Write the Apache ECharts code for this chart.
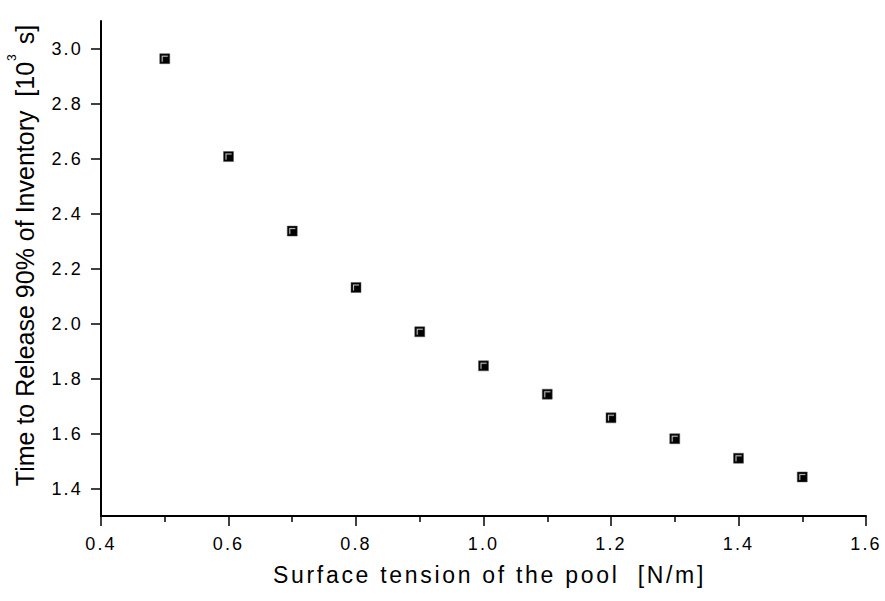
<!DOCTYPE html>
<html>
<head>
<meta charset="utf-8">
<script src="https://cdn.jsdelivr.net/npm/echarts@6/dist/echarts.min.js"></script>
<style>
html, body { margin: 0; padding: 0; background: #ffffff; }
#chart { width: 885px; height: 601px; }
#chart text { white-space: pre; letter-spacing: 2.2px; }
</style>
</head>
<body>
<div id="chart"></div>
<script>
// ---- data ----
const surfaceTension = [0.5, 0.6, 0.7, 0.8, 0.9, 1.0, 1.1, 1.2, 1.3, 1.4, 1.5];
const releaseTime = [2.963, 2.607, 2.336, 2.131, 1.970, 1.846, 1.743, 1.657, 1.581, 1.510, 1.442];
const xTickValues = [0.4, 0.6, 0.8, 1.0, 1.2, 1.4, 1.6];
const xTickLabels = ['0.4', '0.6', '0.8', '1.0', '1.2', '1.4', '1.6'];
const yTickValues = [1.4, 1.6, 1.8, 2.0, 2.2, 2.4, 2.6, 2.8, 3.0];
const yTickLabels = ['1.4', '1.6', '1.8', '2.0', '2.2', '2.4', '2.6', '2.8', '3.0'];
const xAxisTitle = 'Surface tension of the pool  [N/m]';
const yAxisTitleMain = 'Time to Release 90% of Inventory  [10';
const yAxisTitleSup = '3';
const yAxisTitleEnd = ' s]';

const FONT = 'Arial, "Liberation Sans", Helvetica, sans-serif';

function labelFor(values, labels) {
  return function (v) {
    for (let i = 0; i < values.length; i++) {
      if (Math.abs(values[i] - v) < 1e-6) return labels[i];
    }
    return '';
  };
}

const chart = echarts.init(document.getElementById('chart'), null, { renderer: 'svg' });

const option = {
  animation: false,
  backgroundColor: '#ffffff',
  grid: { left: 101, right: 19, top: 21, bottom: 85, containLabel: false, outerBoundsMode: 'none' },
  xAxis: {
    type: 'value',
    min: 0.4,
    max: 1.6,
    interval: 0.2,
    name: xAxisTitle,
    nameLocation: 'middle',
    nameGap: 47,
    nameTextStyle: { fontFamily: FONT, fontSize: 23, color: '#000', padding: [0, 0, 0, 12] },
    axisLine: { show: true, onZero: false, lineStyle: { color: '#000', width: 2 } },
    axisTick: { show: true, inside: false, length: 10, lineStyle: { color: '#000', width: 1.5 } },
    minorTick: { show: true, splitNumber: 2, length: 6, lineStyle: { color: '#000', width: 1.5 } },
    splitLine: { show: false },
    minorSplitLine: { show: false },
    axisLabel: {
      fontFamily: FONT, fontSize: 18, color: '#000', margin: 19,
      formatter: labelFor(xTickValues, xTickLabels)
    }
  },
  yAxis: {
    type: 'value',
    min: 1.3,
    max: 3.1,
    name: '{m|' + yAxisTitleMain + '}{s|' + yAxisTitleSup + '}{m|' + yAxisTitleEnd + '}',
    nameLocation: 'middle',
    nameRotate: 90,
    nameGap: 64,
    nameTextStyle: {
      padding: [0, 0, 0, 26],
      rich: {
        m: { fontFamily: FONT, fontSize: 25, color: '#000', lineHeight: 28, verticalAlign: 'bottom' },
        s: { fontFamily: FONT, fontSize: 12, color: '#000', lineHeight: 12, verticalAlign: 'bottom', padding: [0, 3, 19, 1] }
      }
    },
    axisLine: { show: true, onZero: false, lineStyle: { color: '#000', width: 2 } },
    axisTick: { show: true, inside: false, length: 10, customValues: yTickValues, lineStyle: { color: '#000', width: 1.5 } },
    splitLine: { show: false },
    axisLabel: {
      fontFamily: FONT, fontSize: 18, color: '#000', margin: 18,
      customValues: yTickValues,
      formatter: labelFor(yTickValues, yTickLabels)
    }
  },
  series: [{
    type: 'scatter',
    data: surfaceTension.map((x, i) => [x, releaseTime[i]]),
    symbol: 'path://M0,0H10V10H0Z M2,2V8H3V3H8V2Z',
    symbolSize: 10,
    itemStyle: { color: '#000', borderColor: '#555', borderWidth: 0.5, opacity: 1 }
  }]
};

chart.setOption(option);

// Origin-style widened character spacing: 2.2px for tick labels (CSS),
// 2.7px for the x title, none inside the rich y title.
function spaceTexts() {
  const texts = document.querySelectorAll('#chart text');
  texts.forEach(t => {
    const s = t.textContent;
    if (s.indexOf('Surface tension') === 0) {
      t.style.letterSpacing = '2.7px';
    } else if (s === yAxisTitleMain || s === yAxisTitleSup || s === yAxisTitleEnd) {
      t.style.letterSpacing = '0px';
    }
  });
}
spaceTexts();
chart.on('finished', spaceTexts);
setTimeout(spaceTexts, 50);
</script>
</body>
</html>
